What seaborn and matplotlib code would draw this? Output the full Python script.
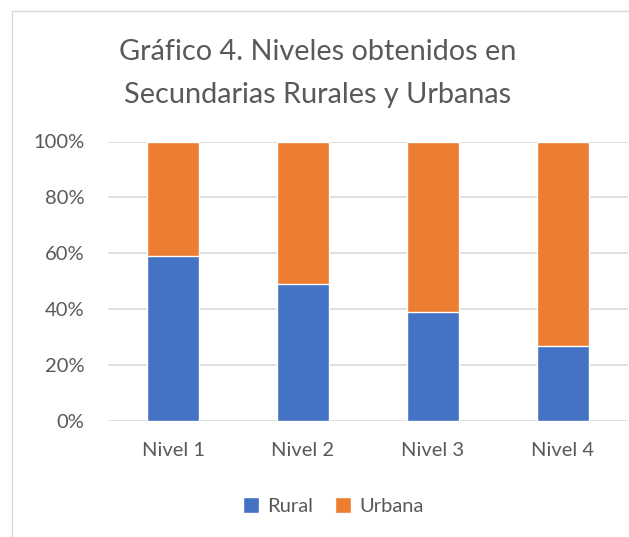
import matplotlib
matplotlib.use("Agg")
import matplotlib.pyplot as plt
from matplotlib.patches import Patch
from matplotlib.lines import Line2D
import seaborn as sns
import pandas as pd

niveles = ["Nivel 1", "Nivel 2", "Nivel 3", "Nivel 4"]
rural = [59, 49, 39, 27]
urbana = [41, 51, 61, 73]
y_ticks = [0, 20, 40, 60, 80, 100]

azul = "#4472C4"
naranja = "#ED7D31"
gris = "#595959"

sns.set_style("white")
plt.rcParams["font.family"] = ["Lato", "DejaVu Sans"]

df = pd.DataFrame({"Nivel": niveles, "Rural": rural, "Urbana": urbana})
df["Total"] = df["Rural"] + df["Urbana"]

W, H = 629, 537
fig = plt.figure(figsize=(W / 100, H / 100), dpi=100)
ax = fig.add_axes([108 / W, 116 / H, 520 / W, 279.5 / H])

# stacked: total in orange, rural on top in blue
sns.barplot(data=df, x="Nivel", y="Total", color=naranja, width=0.4,
            saturation=1, ax=ax, zorder=3)
sns.barplot(data=df, x="Nivel", y="Rural", color=azul, width=0.4,
            saturation=1, ax=ax, zorder=3)

ax.set_ylim(0, 100)
ax.set_xlim(-0.5, 3.5)
ax.set_yticks(y_ticks)
ax.set_yticklabels([f"{t}%" for t in y_ticks])
ax.set_xlabel("")
ax.set_ylabel("")
ax.grid(axis="y", color="#d9d9d9", linewidth=1.2, zorder=0)
for s in ax.spines.values():
    s.set_visible(False)
ax.tick_params(axis="both", length=0, labelsize=14.5, colors=gris)
ax.tick_params(axis="y", pad=17)
ax.tick_params(axis="x", pad=15)

fig.text(0.505, 1 - 52 / H, "Gráfico 4. Niveles obtenidos en", ha="center",
         va="center", fontsize=20.8, color=gris)
fig.text(0.505, 1 - 95 / H, "Secundarias Rurales y Urbanas", ha="center",
         va="center", fontsize=20.8, color=gris)

handles = [Patch(facecolor=azul, label="Rural"), Patch(facecolor=naranja, label="Urbana")]
fig.legend(handles=handles, loc="center", bbox_to_anchor=(0.53, 31 / H), ncol=2,
           frameon=False, fontsize=14.5, labelcolor=gris, handlelength=0.8,
           handleheight=0.8, handletextpad=0.4, columnspacing=1.1)

# chart border (left and top edges visible)
fig.add_artist(Line2D([11.5 / W, 11.5 / W], [0, 1 - 10.5 / H], color="#d9d9d9", lw=1))
fig.add_artist(Line2D([11.5 / W, 1], [1 - 10.5 / H, 1 - 10.5 / H], color="#d9d9d9", lw=1))

fig.savefig("out.png", dpi=100)
